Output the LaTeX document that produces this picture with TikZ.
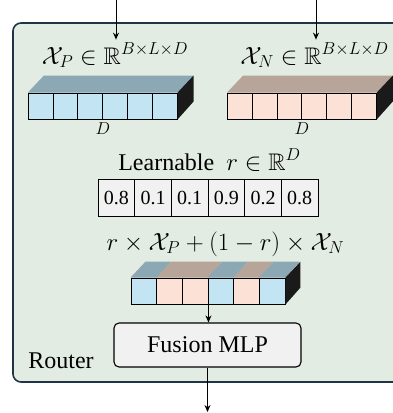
\documentclass[tikz,border=0pt]{standalone}
\usepackage{amssymb}
\usepackage{fontspec}
\setmainfont{Liberation Serif}
\usetikzlibrary{arrows.meta}

\definecolor{routerfill}{HTML}{E3ECE3}
\definecolor{routerdraw}{HTML}{1E3545}
\definecolor{frontP}{HTML}{C3E4F3}
\definecolor{topP}{HTML}{8DA8B5}
\definecolor{frontN}{HTML}{FCE2D6}
\definecolor{topN}{HTML}{B8A59A}
\definecolor{sideblk}{HTML}{1A1A1A}
\definecolor{boxgray}{HTML}{F1F1F1}

\begin{document}
\begin{tikzpicture}[x=1pt,y=-1pt,font=\fontsize{24}{28}\selectfont,
    cell/.style={rectangle,draw=black,line width=0.9pt,inner sep=0pt,minimum height=26pt},
    valbox/.style={rectangle,draw=black,line width=0.9pt,inner sep=0pt,fill=boxgray,
                   minimum width=36.67pt,minimum height=37pt,font=\fontsize{20}{24}\selectfont},
    dimlabel/.style={font=\fontsize{17}{20}\selectfont}]
\useasboundingbox (0,0) rectangle (393,413);
\clip (0,0) rectangle (393,413);

\draw[rounded corners=8pt,line width=1.6pt,draw=routerdraw,fill=routerfill] (13,23) rectangle (430,382);

% input blocks
\foreach \i in {1,...,6} {
    \node[cell,minimum width=24.8pt,fill=frontP] (p\i) at ({28.3+24.8*(\i-0.5)},106) {};
    \node[cell,minimum width=24.8pt,fill=frontN] (n\i) at ({227.5+24.8*(\i-0.5)},106) {};
}
\fill[topP] (p1.north west) -- ++(16,-17) -- ([shift={(16pt,17pt)}]p6.north east) -- (p6.north east) -- cycle;
\fill[sideblk] (p6.north east) -- ++(16,-17) -- ++(0,26) -- (p6.south east) -- cycle;
\fill[topN] (n1.north west) -- ++(16,-17) -- ([shift={(16pt,17pt)}]n6.north east) -- (n6.north east) -- cycle;
\fill[sideblk] (n6.north east) -- ++(16,-17) -- ++(0,26) -- (n6.south east) -- cycle;

\node[anchor=base] (xp) at (115,64) {$\mathcal{X}_P \in \mathbb{R}^{B\times L\times D}$};
\node[anchor=base] (xn) at (314.5,64) {$\mathcal{X}_N \in \mathbb{R}^{B\times L\times D}$};
\node[dimlabel] (dp) at (103,129) {$D$};
\node[dimlabel] (dn) at (302,129) {$D$};

% learnable weights
\node[anchor=base] (learn) at (209.5,170) {Learnable~ $r \in \mathbb{R}^{D}$};
\foreach \v [count=\i] in {0.8,0.1,0.1,0.9,0.2,0.8}
    \node[valbox] (r\i) at ({98+36.67*(\i-0.5)},197.5) {\v};

% mixed block
\node[anchor=base] (mix) at (225.5,250) {$r \times \mathcal{X}_P + (1-r) \times \mathcal{X}_N$};
\foreach \c [count=\i] in {P,N,N,P,N,P}
    \node[cell,minimum width=25.67pt,fill=front\c] (m\i) at ({131+25.67*(\i-0.5)},291) {};
\foreach \c [count=\i] in {P,N,N,P,N,P}
    \fill[top\c] (m\i.north west) -- ++(15,-16) -- ++(25.67,0) -- (m\i.north east) -- cycle;
\fill[sideblk] (m6.north east) -- ++(15,-16) -- ++(0,26) -- (m6.south east) -- cycle;

\node[rectangle,draw=black,line width=1.1pt,rounded corners=5pt,fill=boxgray,
      minimum width=187pt,minimum height=44pt] (fusion) at (207.5,345) {Fusion MLP};
\node[anchor=base] (router) at (61,368) {Router};

\coordinate (inP) at (116,0);
\coordinate (inN) at (316,0);
\coordinate (out) at (207.5,412);

\begin{scope}[>={Stealth[black,length=7pt,width=6pt]},line width=1pt]
    \path [->] (inP) edge (inP |- xp.north);
    \path [->] (inN) edge (inN |- xn.north);
    \path [->] (m3.south east) edge (m3.south east |- fusion.north);
    \path [->] (fusion) edge (out);
\end{scope}
\end{tikzpicture}
\end{document}
